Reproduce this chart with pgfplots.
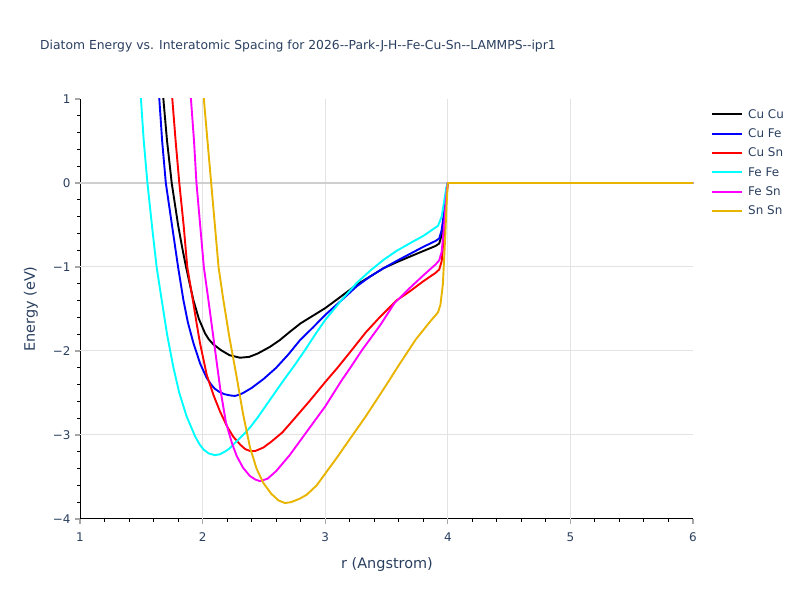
\documentclass[border=0pt]{standalone}
\usepackage{pgfplots}
\pgfplotsset{compat=1.18}
\usepackage{fontspec}
\setmainfont{DejaVu Sans}
\definecolor{txt}{HTML}{2A3F5F}
\definecolor{gridc}{HTML}{E3E3E3}
\definecolor{zeroc}{HTML}{CFCFCF}
\definecolor{cucu}{HTML}{000000}
\definecolor{cufe}{HTML}{0000FF}
\definecolor{cusn}{HTML}{FF0000}
\definecolor{fefe}{HTML}{00FFFF}
\definecolor{fesn}{HTML}{FF00FF}
\definecolor{snsn}{HTML}{E8B400}
\begin{document}
\begin{tikzpicture}[x=1bp,y=1bp]
\path[use as bounding box] (0,0) rectangle (800,600);
\node[anchor=west, text=txt, font=\fontsize{12.4}{14}\selectfont, inner sep=0pt] at (40,554) {Diatom Energy vs. Interatomic Spacing for 2026{-}{-}Park-J-H{-}{-}Fe-Cu-Sn{-}{-}LAMMPS{-}{-}ipr1};
\node[text=txt, font=\fontsize{14.5}{16}\selectfont] at (387,35) {r (Angstrom)};
\node[text=txt, font=\fontsize{14.5}{16}\selectfont, rotate=90] at (31,291) {Energy (eV)};
\begin{axis}[
  at={(80bp,81bp)}, anchor=south west,
  width=613bp, height=420bp, scale only axis,
  xmin=1, xmax=6, ymin=-4, ymax=1,
  axis x line*=bottom, axis y line*=left,
  axis line style={-, black, line width=1bp},
  xtick={1,2,3,4,5,6}, xticklabels={1,2,3,4,5,6},
  ytick={-4,-3,-2,-1,0,1}, yticklabels={−4,−3,−2,−1,0,1},
  minor x tick num=4, minor y tick num=4,
  tick align=outside,
  major tick length=5bp, minor tick length=3bp,
  major tick style={draw=black!35, line width=1.2bp},
  minor tick style={draw=black, line width=1bp},
  tick label style={text=txt, font=\fontsize{12}{14}\selectfont},
  xticklabel style={yshift=-5bp},
  yticklabel style={xshift=-1bp},
  legend style={at={(1,1)}, anchor=north west, xshift=15bp, yshift=-6bp,
    draw=none, fill=none, text=txt, font=\fontsize{12}{14}\selectfont,
    row sep=5bp, column sep=3bp, nodes={inner sep=2bp}},
  legend cell align=left,
  legend image code/.code={\draw[#1, line width=2bp] (0bp,0bp) -- (30bp,0bp);},
  every axis plot/.append style={line width=1.9bp, no marks, line join=round},
]
\draw[gridc, line width=1bp] (axis cs:2,-4) -- (axis cs:2,1);
\draw[gridc, line width=1bp] (axis cs:3,-4) -- (axis cs:3,1);
\draw[gridc, line width=1bp] (axis cs:4,-4) -- (axis cs:4,1);
\draw[gridc, line width=1bp] (axis cs:5,-4) -- (axis cs:5,1);
\draw[gridc, line width=1bp] (axis cs:1,-1) -- (axis cs:6,-1);
\draw[gridc, line width=1bp] (axis cs:1,-2) -- (axis cs:6,-2);
\draw[gridc, line width=1bp] (axis cs:1,-3) -- (axis cs:6,-3);
\draw[zeroc, line width=2bp] (axis cs:1,0) -- (axis cs:6,0);

\addplot[draw=cucu] coordinates {(1.66,1.3)(1.68,1.0)(1.71,0.5)(1.748,0.0)(1.80,-0.5)(1.835,-0.78)(1.865,-1.0)(1.895,-1.2)(1.924,-1.39)(1.97,-1.62)(2.02,-1.79)(2.05,-1.86)(2.087,-1.92)(2.15,-1.99)(2.22,-2.05)(2.305,-2.08)(2.38,-2.07)(2.45,-2.03)(2.55,-1.95)(2.63,-1.87)(2.713,-1.77)(2.8,-1.67)(2.9,-1.58)(3.0,-1.49)(3.13,-1.35)(3.257,-1.21)(3.37,-1.11)(3.474,-1.016)(3.58,-0.945)(3.69,-0.877)(3.8,-0.81)(3.9,-0.75)(3.93,-0.72)(3.95,-0.62)(3.97,-0.4)(3.99,-0.1)(4.0,0)(6,0)};
\addlegendentry{Cu Cu}
\addplot[draw=cufe] coordinates {(1.63,1.3)(1.647,1.0)(1.67,0.5)(1.70,0.0)(1.75,-0.5)(1.80,-1.0)(1.843,-1.39)(1.88,-1.66)(1.924,-1.9)(1.98,-2.15)(2.033,-2.32)(2.07,-2.4)(2.1,-2.45)(2.14,-2.49)(2.18,-2.515)(2.23,-2.53)(2.264,-2.535)(2.30,-2.52)(2.33,-2.5)(2.4,-2.44)(2.5,-2.33)(2.6,-2.2)(2.7,-2.04)(2.795,-1.87)(2.9,-1.72)(3.0,-1.571)(3.13,-1.4)(3.257,-1.23)(3.37,-1.11)(3.474,-1.016)(3.58,-0.93)(3.69,-0.845)(3.8,-0.76)(3.9,-0.69)(3.93,-0.66)(3.95,-0.56)(3.97,-0.34)(3.99,-0.07)(4.0,0)(6,0)};
\addlegendentry{Cu Fe}
\addplot[draw=cusn] coordinates {(1.74,1.3)(1.753,1.0)(1.78,0.5)(1.81,0.0)(1.845,-0.5)(1.875,-1.0)(1.92,-1.39)(1.95,-1.66)(1.978,-1.9)(2.033,-2.28)(2.09,-2.53)(2.142,-2.72)(2.2,-2.9)(2.25,-3.02)(2.31,-3.12)(2.35,-3.17)(2.387,-3.19)(2.43,-3.19)(2.495,-3.15)(2.56,-3.08)(2.65,-2.97)(2.74,-2.82)(2.87,-2.6)(3.0,-2.37)(3.1,-2.2)(3.216,-1.99)(3.33,-1.78)(3.45,-1.59)(3.58,-1.40)(3.69,-1.29)(3.8,-1.17)(3.9,-1.07)(3.93,-1.03)(3.95,-0.93)(3.97,-0.6)(3.99,-0.15)(4.0,0)(6,0)};
\addlegendentry{Cu Sn}
\addplot[draw=fefe] coordinates {(1.48,1.3)(1.497,1.0)(1.52,0.5)(1.55,0.0)(1.59,-0.55)(1.625,-1.0)(1.666,-1.39)(1.71,-1.8)(1.761,-2.19)(1.81,-2.5)(1.87,-2.78)(1.94,-3.02)(1.975,-3.11)(2.006,-3.17)(2.05,-3.22)(2.1,-3.24)(2.14,-3.23)(2.18,-3.2)(2.22,-3.16)(2.26,-3.1)(2.33,-3.0)(2.387,-2.91)(2.45,-2.79)(2.55,-2.58)(2.66,-2.35)(2.75,-2.17)(2.835,-1.99)(2.92,-1.8)(3.0,-1.63)(3.13,-1.4)(3.257,-1.19)(3.37,-1.04)(3.474,-0.917)(3.58,-0.81)(3.69,-0.718)(3.8,-0.63)(3.92,-0.51)(3.95,-0.4)(3.97,-0.22)(3.99,-0.04)(4.0,0)(6,0)};
\addlegendentry{Fe Fe}
\addplot[draw=fesn] coordinates {(1.89,1.3)(1.905,1.0)(1.93,0.5)(1.95,0.0)(1.98,-0.5)(2.01,-1.0)(2.047,-1.39)(2.1,-1.97)(2.142,-2.43)(2.19,-2.85)(2.24,-3.1)(2.278,-3.25)(2.33,-3.39)(2.387,-3.49)(2.43,-3.53)(2.468,-3.55)(2.53,-3.52)(2.6,-3.43)(2.71,-3.24)(2.82,-3.02)(2.91,-2.84)(3.0,-2.66)(3.134,-2.35)(3.2,-2.21)(3.30,-1.99)(3.45,-1.69)(3.565,-1.43)(3.69,-1.25)(3.8,-1.10)(3.9,-0.97)(3.93,-0.92)(3.95,-0.82)(3.97,-0.5)(3.99,-0.12)(4.0,0)(6,0)};
\addlegendentry{Fe Sn}
\addplot[draw=snsn] coordinates {(2.0,1.3)(2.01,1.0)(2.04,0.5)(2.07,0.0)(2.1,-0.5)(2.13,-1.0)(2.169,-1.39)(2.22,-1.85)(2.278,-2.31)(2.33,-2.75)(2.387,-3.15)(2.44,-3.40)(2.495,-3.57)(2.56,-3.7)(2.62,-3.78)(2.672,-3.81)(2.72,-3.8)(2.79,-3.76)(2.85,-3.71)(2.93,-3.6)(3.0,-3.46)(3.1,-3.26)(3.2,-3.05)(3.33,-2.78)(3.5,-2.4)(3.6,-2.17)(3.74,-1.86)(3.85,-1.66)(3.92,-1.54)(3.94,-1.45)(3.96,-1.2)(3.98,-0.6)(3.99,-0.25)(4.0,0)(6,0)};
\addlegendentry{Sn Sn}
\end{axis}
\end{tikzpicture}
\end{document}
